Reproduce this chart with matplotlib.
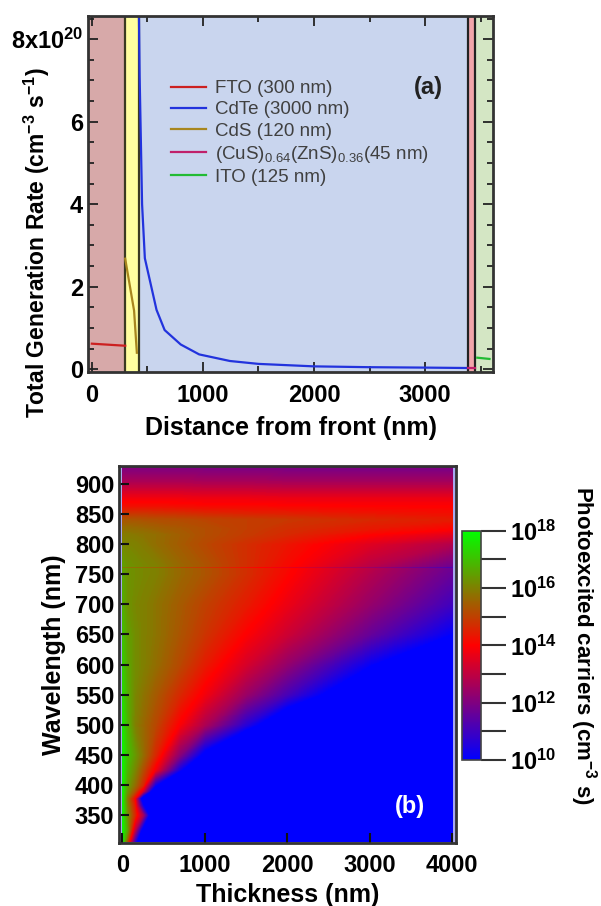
import numpy as np
import matplotlib.pyplot as plt
from matplotlib.colors import LinearSegmentedColormap, LogNorm
from matplotlib.cm import ScalarMappable
from matplotlib.ticker import MultipleLocator

plt.rcParams['font.family'] = ['Liberation Sans', 'DejaVu Sans']
plt.rcParams['font.weight'] = 'bold'
plt.rcParams['axes.labelweight'] = 'bold'
plt.rcParams['mathtext.default'] = 'regular'

# ---- (a) total generation rate, units of 1e20 cm^-3 s^-1 ----
fto_x = [0, 300]
fto_g = [0.62, 0.57]
cds_x = [300, 380, 405]
cds_g = [2.68, 1.42, 0.40]
cdte_x = [420, 430, 452, 477, 582, 655, 800, 966, 1243, 1500, 2000, 2500, 3000, 3390]
cdte_g = [9.5, 7.1, 4.0, 2.69, 1.44, 0.95, 0.60, 0.36, 0.20, 0.13, 0.07, 0.05, 0.04, 0.03]
cus_x = [3390, 3445]
cus_g = [0.04, 0.04]
ito_x = [3470, 3580]
ito_g = [0.28, 0.25]

layer_edges = [300, 420, 3390, 3445]
layer_fill = ['#d7a9a9', '#ffffa0', '#c9d5ee', '#f2a5aa', '#d4e6c4']
labels = ['FTO (300 nm)', 'CdTe (3000 nm)', 'CdS (120 nm)',
          '(CuS)$_{0.64}$(ZnS)$_{0.36}$(45 nm)', 'ITO (125 nm)']

# ---- (b) photoexcited carriers, log10 values ----
thickness = [0, 60, 150, 250, 400, 700, 1000, 1500, 2000, 3000, 4000]
wavelength = [307, 325, 350, 365, 378, 390, 400, 425, 450, 500, 550, 600, 650,
              700, 750, 759, 761, 763, 800, 815, 825, 840, 850, 862, 875, 890,
              905, 926]
log_carriers = [
    [17.8, 15.3, 11.0, 7.0, 7.0, 7.0, 7.0, 7.0, 7.0, 7.0, 7.0],
    [17.8, 16.5, 13.0, 9.2, 7.0, 7.0, 7.0, 7.0, 7.0, 7.0, 7.0],
    [17.8, 16.2, 14.6, 12.6, 7.0, 7.0, 7.0, 7.0, 7.0, 7.0, 7.0],
    [17.8, 16.0, 14.4, 10.3, 7.0, 7.0, 7.0, 7.0, 7.0, 7.0, 7.0],
    [17.8, 15.8, 14.0, 8.5, 7.0, 7.0, 7.0, 7.0, 7.0, 7.0, 7.0],
    [17.8, 16.3, 15.2, 13.3, 8.0, 7.0, 7.0, 7.0, 7.0, 7.0, 7.0],
    [17.8, 16.5, 15.7, 14.6, 10.2, 7.0, 7.0, 7.0, 7.0, 7.0, 7.0],
    [17.8, 16.8, 16.1, 15.2, 13.8, 10.2, 7.5, 7.0, 7.0, 7.0, 7.0],
    [17.8, 17.0, 16.4, 15.7, 14.6, 12.1, 9.6, 7.0, 7.0, 7.0, 7.0],
    [17.6, 16.8, 16.0, 15.6, 15.1, 13.9, 12.7, 10.6, 8.5, 7.0, 7.0],
    [17.4, 16.7, 16.1, 15.8, 15.4, 14.6, 13.8, 12.4, 11.1, 8.4, 7.0],
    [17.2, 16.6, 16.2, 16.0, 15.7, 15.1, 14.4, 13.35, 12.3, 10.1, 8.0],
    [17.0, 16.5, 16.2, 16.0, 15.8, 15.3, 14.8, 13.97, 13.2, 11.6, 10.0],
    [16.7, 16.3, 16.1, 16.0, 15.8, 15.4, 15.0, 14.4, 13.7, 12.35, 11.0],
    [16.6, 16.3, 16.2, 16.1, 16.0, 15.6, 15.3, 14.7, 14.06, 12.8, 11.6],
    [16.5, 16.3, 16.2, 16.1, 16.0, 15.6, 15.3, 14.7, 14.1, 12.9, 11.7],
    [15.6, 15.4, 15.3, 15.2, 15.1, 14.7, 14.4, 13.8, 13.2, 12.0, 10.8],
    [16.5, 16.3, 16.2, 16.1, 16.0, 15.6, 15.3, 14.7, 14.1, 12.9, 11.7],
    [16.1, 16.05, 16.0, 15.9, 15.7, 15.4, 15.1, 14.7, 14.3, 13.5, 12.8],
    [15.9, 15.9, 15.85, 15.8, 15.7, 15.45, 15.2, 14.9, 14.6, 14.0, 13.5],
    [15.7, 15.7, 15.65, 15.6, 15.5, 15.35, 15.2, 14.95, 14.7, 14.35, 14.0],
    [15.3, 15.3, 15.3, 15.25, 15.2, 15.15, 15.05, 14.95, 14.85, 14.6, 14.4],
    [14.8, 14.8, 14.8, 14.8, 14.75, 14.7, 14.6, 14.5, 14.45, 14.3, 14.2],
    [14.2, 14.2, 14.2, 14.2, 14.2, 14.15, 14.1, 14.1, 14.05, 14.0, 14.0],
    [13.8, 13.8, 13.8, 13.8, 13.8, 13.8, 13.75, 13.75, 13.7, 13.7, 13.7],
    [13.2, 13.2, 13.2, 13.2, 13.2, 13.2, 13.15, 13.15, 13.1, 13.1, 13.1],
    [12.6, 12.6, 12.6, 12.6, 12.6, 12.6, 12.55, 12.55, 12.5, 12.5, 12.5],
    [12.0, 12.0, 12.0, 12.0, 12.0, 12.0, 11.95, 11.95, 11.9, 11.9, 11.9],
]

fig = plt.figure(figsize=(6.01, 9.06), dpi=100)

# ---------------- panel (a) ----------------
ax1 = fig.add_axes([0.1464, 0.5897, 0.674, 0.3926])
xmin, xmax = -35, 3612
ax1.set_xlim(xmin, xmax)
ax1.set_ylim(-0.06, 8.56)

span_edges = [xmin] + layer_edges + [xmax]
for i, c in enumerate(layer_fill):
    ax1.axvspan(span_edges[i], span_edges[i + 1], color=c, lw=0, zorder=0)
for i, e in enumerate(layer_edges):
    ax1.axvline(e, color='#3a3a22' if i < 2 else '#222222', lw=1.6, zorder=1)

ax1.plot(fto_x, fto_g, color='#cc2020', lw=1.6, label=labels[0])
ax1.plot(cdte_x, cdte_g, color='#2233dd', lw=1.6, label=labels[1])
ax1.plot(cds_x, cds_g, color='#a8861e', lw=1.6, label=labels[2])
ax1.plot(cus_x, cus_g, color='#c0206a', lw=1.6, label=labels[3])
ax1.plot(ito_x, ito_g, color='#22bb33', lw=1.6, label=labels[4])

leg = ax1.legend(loc='upper left', bbox_to_anchor=(0.204, 0.82), frameon=False,
                 borderpad=0, borderaxespad=0, handlelength=1.9, handletextpad=0.45,
                 labelspacing=0.22, prop={'weight': 'normal', 'size': 13.5})
for t in leg.get_texts():
    t.set_color('#404040')

ax1.text(3030, 6.83, '(a)', fontsize=17, ha='center', va='center', color='#222222')

ax1.set_xticks([0, 1000, 2000, 3000])
ax1.xaxis.set_minor_locator(MultipleLocator(500))
ax1.set_yticks([0, 2, 4, 6, 8])
ax1.set_yticklabels(['0', '2', '4', '6', '8x10$^{20}$'])
ax1.yaxis.set_minor_locator(MultipleLocator(0.5))
ax1.tick_params(which='both', direction='in', top=True, right=True, labelsize=17,
                color='#222222', width=1.3)
ax1.tick_params(which='major', length=7)
ax1.tick_params(which='minor', length=4)
ax1.tick_params(axis='x', which='both', pad=9)
for s in ax1.spines.values():
    s.set_linewidth(2)
    s.set_color('#333333')
ax1.set_xlabel('Distance from front (nm)', fontsize=18, labelpad=6)
ax1.set_ylabel('Total Generation Rate (cm$^{-3}$ s$^{-1}$)', fontsize=16.5)
ax1.yaxis.set_label_coords(-0.09, 0.362)

# ---------------- panel (b) ----------------
cmap = LinearSegmentedColormap.from_list('carriers', ['#0000ff', '#ff0000', '#00ff00'])
cmap.set_under('#0000ff')
cmap.set_over('#00ff00')

ax2 = fig.add_axes([0.198, 0.0695, 0.56, 0.4167])
ax2.set_facecolor('#a8a8f0')
ax2.contourf(thickness, wavelength, np.array(log_carriers),
             levels=np.linspace(10, 18, 161), cmap=cmap, extend='both')
ax2.set_xlim(-40, 4040)
ax2.set_ylim(304, 930)
ax2.set_xticks([0, 1000, 2000, 3000, 4000])
ax2.set_yticks(np.arange(350, 901, 50))
ax2.tick_params(direction='in', length=7, width=1.5, labelsize=17, color='#111111')
ax2.tick_params(axis='x', pad=8)
for s in ax2.spines.values():
    s.set_linewidth(2)
    s.set_color('#333333')
ax2.set_xlabel('Thickness (nm)', fontsize=18, labelpad=4)
ax2.set_ylabel('Wavelength (nm)', fontsize=18, labelpad=6)
ax2.text(3490, 364, '(b)', fontsize=17, color='white', ha='center', va='center')

cax = fig.add_axes([0.7682, 0.1611, 0.0321, 0.2531])
sm = ScalarMappable(norm=LogNorm(1e10, 1e18), cmap=cmap)
cb = fig.colorbar(sm, cax=cax)
cb.ax.minorticks_off()
cb.set_ticks([10.0 ** k for k in range(10, 19)])
cb.set_ticklabels(['$10^{%d}$' % k if k % 2 == 0 else '' for k in range(10, 19)])
cb.ax.tick_params(length=18, width=1.5, labelsize=17, color='#333333', pad=3)
cb.outline.set_linewidth(1.2)
cb.outline.set_edgecolor('#444444')
fig.text(0.970, 0.288, 'Photoexcited carriers (cm$^{-3}$ s)', rotation=270,
         ha='center', va='center', fontsize=16)

fig.savefig('out.png', dpi=100)
